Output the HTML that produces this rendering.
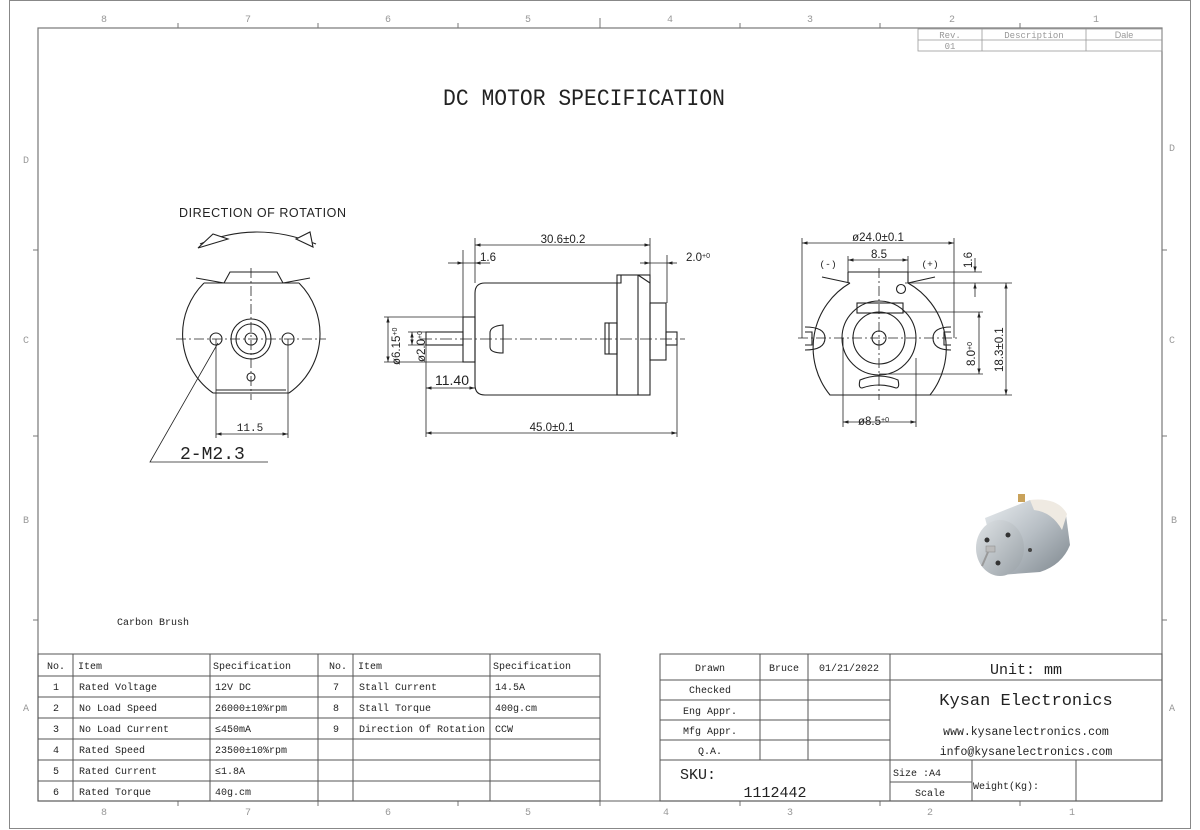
<!DOCTYPE html>
<html><head><meta charset="utf-8"><style>
html,body{margin:0;padding:0;background:#fff}
svg{display:block}
text{font-family:"Liberation Mono","Noto Sans CJK SC",monospace;fill:#222}
.s{font-family:"Liberation Sans",sans-serif}
.g text{fill:#999;font-size:10px}
</style></head><body>
<svg width="1200" height="830" viewBox="0 0 1200 830" xmlns="http://www.w3.org/2000/svg">
<defs>
<marker id="a" viewBox="0 0 10 10" refX="10" refY="5" markerWidth="7" markerHeight="7" orient="auto-start-reverse"><path d="M0,2 L10,5 L0,8 z" fill="#222"/></marker>
<linearGradient id="mg" x1="0" y1="0" x2="1" y2="1"><stop offset="0" stop-color="#e8ecef"/><stop offset=".5" stop-color="#b7bec4"/><stop offset="1" stop-color="#7d868d"/></linearGradient>
<linearGradient id="mf" x1="0" y1="0" x2="1" y2="1"><stop offset="0" stop-color="#dfe3e6"/><stop offset="1" stop-color="#98a0a6"/></linearGradient>
</defs>
<rect x="9.5" y="0.5" width="1181" height="828" fill="none" stroke="#888" stroke-width="1"/>
<rect x="38" y="28" width="1124" height="773" fill="none" stroke="#777" stroke-width="1.2"/>
<g stroke="#777" stroke-width="1">
<line x1="178" y1="23" x2="178" y2="28"/><line x1="318" y1="23" x2="318" y2="28"/><line x1="458" y1="23" x2="458" y2="28"/><line x1="600" y1="18" x2="600" y2="28"/><line x1="740" y1="23" x2="740" y2="28"/><line x1="880" y1="23" x2="880" y2="28"/><line x1="1020" y1="23" x2="1020" y2="28"/>
<line x1="178" y1="801" x2="178" y2="806"/><line x1="318" y1="801" x2="318" y2="806"/><line x1="458" y1="801" x2="458" y2="806"/><line x1="600" y1="801" x2="600" y2="806"/><line x1="740" y1="801" x2="740" y2="806"/><line x1="880" y1="801" x2="880" y2="806"/><line x1="1020" y1="801" x2="1020" y2="806"/>
<line x1="33" y1="250" x2="38" y2="250"/><line x1="33" y1="436" x2="38" y2="436"/><line x1="33" y1="620" x2="38" y2="620"/>
<line x1="1162" y1="250" x2="1167" y2="250"/><line x1="1162" y1="436" x2="1167" y2="436"/><line x1="1162" y1="620" x2="1167" y2="620"/>
</g>
<g class="g" text-anchor="middle">
<text x="104" y="22">8</text><text x="248" y="22">7</text><text x="388" y="22">6</text><text x="528" y="22">5</text><text x="670" y="22">4</text><text x="810" y="22">3</text><text x="952" y="22">2</text><text x="1096" y="22">1</text>
<text x="104" y="815">8</text><text x="248" y="815">7</text><text x="388" y="815">6</text><text x="528" y="815">5</text><text x="666" y="815">4</text><text x="790" y="815">3</text><text x="930" y="815">2</text><text x="1072" y="815">1</text>
<text x="26" y="163">D</text><text x="26" y="343">C</text><text x="26" y="523">B</text><text x="26" y="711">A</text>
<text x="1172" y="151">D</text><text x="1172" y="343">C</text><text x="1174" y="523">B</text><text x="1172" y="711">A</text>
</g>
<g stroke="#999" stroke-width="0.8" fill="none">
<rect x="918" y="29" width="244" height="22"/><line x1="918" y1="40" x2="1162" y2="40"/><line x1="982" y1="29" x2="982" y2="51"/><line x1="1086" y1="29" x2="1086" y2="51"/>
</g>
<g class="g" text-anchor="middle"><text x="950" y="38" style="font-size:9px">Rev.</text><text x="1034" y="38" style="font-size:9px">Description</text><text x="1124" y="38" style="font-size:9px" class="s">Dale</text><text x="950" y="49" style="font-size:9px">01</text></g>
<text x="443" y="105" font-size="23" textLength="282" lengthAdjust="spacingAndGlyphs">DC MOTOR SPECIFICATION</text>
<text x="179" y="217" class="s" font-size="12.5" textLength="167" lengthAdjust="spacing" fill="#333">DIRECTION OF ROTATION</text>

<!-- FRONT VIEW -->
<g stroke="#222" stroke-width="1.1" fill="none">
<path d="M200,244 Q256,220 316,244"/>
<path d="M198,248 L213,234 L228,239 Z" fill="#fff"/>
<path d="M296,239 L310,232 L313,247 Z" fill="#fff"/>
<path d="M204,283 A72,72 0 0 0 213,393 M299,283 A72,72 0 0 1 289,393"/>
<line x1="213" y1="393" x2="289" y2="393"/><line x1="216" y1="390" x2="286" y2="390"/>
<path d="M204,283 L299,283 M224,283 L230,272 L277,272 L283,283 M196,278 L224,283 M310,278 L283,283"/>
<circle cx="216" cy="339" r="6"/><circle cx="288" cy="339" r="6"/>
<circle cx="251" cy="339" r="20"/><circle cx="251" cy="339" r="15"/><circle cx="251" cy="339" r="6"/>
<circle cx="251" cy="377" r="4"/>
</g>
<g stroke="#222" stroke-width="0.8" fill="none">
<line x1="176" y1="339" x2="326" y2="339" stroke-dasharray="10,3,2,3"/>
<line x1="251" y1="268" x2="251" y2="400" stroke-dasharray="10,3,2,3"/>
<line x1="216" y1="339" x2="216" y2="438"/><line x1="288" y1="339" x2="288" y2="438"/>
<line x1="216" y1="434" x2="288" y2="434" marker-start="url(#a)" marker-end="url(#a)"/>
<polyline points="218,343 150,462 268,462"/>
</g>
<text x="250" y="431" font-size="11" text-anchor="middle">11.5</text>
<text x="180" y="459" font-size="18" font-family="Liberation Serif,serif">2-M2.3</text>

<!-- SIDE VIEW -->
<g stroke="#222" stroke-width="1.1" fill="none">
<path d="M485,283 L617,283 L617,395 L485,395 Q475,395 475,385 L475,293 Q475,283 485,283 Z"/>
<rect x="617" y="275" width="33" height="120"/><line x1="638" y1="275" x2="638" y2="395"/>
<path d="M617,283 L621,283 L621,275 M638,275 L650,283"/>
<rect x="650" y="303" width="16" height="57"/>
<rect x="666" y="332" width="11" height="13"/>
<rect x="463" y="317" width="12" height="45"/>
<rect x="426" y="332" width="37" height="13"/>
<path d="M503,325 Q490,326 490,333 L490,347 Q490,353 503,353 Z"/>
<rect x="605" y="323" width="12" height="31"/><line x1="609" y1="323" x2="609" y2="354"/>
</g>
<g stroke="#222" stroke-width="0.8" fill="none">
<line x1="420" y1="339" x2="685" y2="339" stroke-dasharray="12,3,2,3"/>
<line x1="475" y1="238" x2="475" y2="283"/><line x1="650" y1="238" x2="650" y2="275"/>
<line x1="463" y1="250" x2="463" y2="317"/><line x1="667" y1="255" x2="667" y2="303"/>
<line x1="475" y1="245" x2="650" y2="245" marker-start="url(#a)" marker-end="url(#a)"/>
<line x1="448" y1="263" x2="463" y2="263" marker-end="url(#a)"/><line x1="490" y1="263" x2="475" y2="263" marker-end="url(#a)"/><line x1="463" y1="263" x2="475" y2="263"/>
<line x1="640" y1="263" x2="650" y2="263" marker-end="url(#a)"/><line x1="677" y1="263" x2="667" y2="263" marker-end="url(#a)"/><line x1="650" y1="263" x2="667" y2="263"/>
<line x1="384" y1="317" x2="463" y2="317"/><line x1="384" y1="362" x2="463" y2="362"/>
<line x1="388" y1="317" x2="388" y2="362" marker-start="url(#a)" marker-end="url(#a)"/>
<line x1="408" y1="332" x2="426" y2="332"/><line x1="408" y1="345" x2="426" y2="345"/>
<line x1="412" y1="332" x2="412" y2="345" marker-start="url(#a)" marker-end="url(#a)"/>
<line x1="426" y1="345" x2="426" y2="437"/><line x1="677" y1="345" x2="677" y2="437"/>
<line x1="426" y1="388" x2="475" y2="388" marker-start="url(#a)" marker-end="url(#a)"/>
<line x1="426" y1="433" x2="677" y2="433" marker-start="url(#a)" marker-end="url(#a)"/>
</g>
<text x="563" y="243" font-size="11.5" text-anchor="middle" class="s">30.6±0.2</text>
<text x="488" y="261" font-size="11.5" text-anchor="middle" class="s">1.6</text>
<text x="686" y="261" font-size="11.5" class="s">2.0<tspan font-size="7" dy="-3">+0</tspan></text>
<text x="452" y="385" font-size="14" text-anchor="middle" class="s">11.40</text>
<text x="552" y="431" font-size="11.5" text-anchor="middle" class="s">45.0±0.1</text>
<text transform="translate(400,365) rotate(-90)" font-size="11.5" class="s">ø6.15<tspan font-size="7" dy="-3">+0</tspan></text>
<text transform="translate(425,362) rotate(-90)" font-size="11.5" class="s">ø2.0<tspan font-size="7" dy="-3">+0</tspan></text>

<!-- REAR VIEW -->
<g stroke="#222" stroke-width="1.1" fill="none">
<path d="M850,283 A75,75 0 0 0 830,395 L930,395 A75,75 0 0 0 908,283"/>
<path d="M848,272 L908,272 M848,272 L848,283 M908,272 L908,283 M822,277 L850,283 M935,277 L908,283"/>
<circle cx="901" cy="289" r="4.5"/>
<rect x="857" y="303" width="46" height="10"/>
<circle cx="879" cy="338" r="37"/><circle cx="879" cy="338" r="26"/><circle cx="879" cy="338" r="7"/>
<path d="M860,380 Q879,372 898,380 Q900,388 896,388 Q879,382 862,388 Q858,388 860,380 Z"/>
<path d="M805,327 Q825,327 825,338 Q825,350 805,350 M805,332 L812,332 L812,345 L805,345"/>
<path d="M951,327 Q933,327 933,338 Q933,350 951,350 M951,332 L944,332 L944,345 L951,345"/>
</g>
<g stroke="#222" stroke-width="0.8" fill="none">
<line x1="798" y1="338" x2="958" y2="338" stroke-dasharray="10,3,2,3"/>
<line x1="879" y1="268" x2="879" y2="400" stroke-dasharray="10,3,2,3"/>
<line x1="802" y1="238" x2="802" y2="338"/><line x1="954" y1="238" x2="954" y2="338"/>
<line x1="802" y1="243" x2="954" y2="243" marker-start="url(#a)" marker-end="url(#a)"/>
<line x1="848" y1="256" x2="848" y2="272"/><line x1="908" y1="256" x2="908" y2="272"/>
<line x1="848" y1="260" x2="908" y2="260" marker-start="url(#a)" marker-end="url(#a)"/>
<line x1="908" y1="272" x2="982" y2="272"/><line x1="905" y1="283" x2="1012" y2="283"/>
<line x1="975" y1="258" x2="975" y2="272" marker-end="url(#a)"/><line x1="975" y1="297" x2="975" y2="283" marker-end="url(#a)"/>
<line x1="1006" y1="283" x2="1006" y2="395" marker-start="url(#a)" marker-end="url(#a)"/>
<line x1="930" y1="395" x2="1012" y2="395"/>
<line x1="903" y1="312" x2="983" y2="312"/><line x1="879" y1="374" x2="983" y2="374"/>
<line x1="979" y1="312" x2="979" y2="374" marker-start="url(#a)" marker-end="url(#a)"/>
<line x1="843" y1="338" x2="843" y2="427"/><line x1="916" y1="358" x2="916" y2="427"/>
<line x1="843" y1="422" x2="916" y2="422" marker-start="url(#a)" marker-end="url(#a)"/>
</g>
<text x="878" y="241" font-size="11.5" text-anchor="middle" class="s">ø24.0±0.1</text>
<text x="879" y="258" font-size="11.5" text-anchor="middle" class="s">8.5</text>
<text x="828" y="267" font-size="9.5" text-anchor="middle">(-)</text>
<text x="930" y="267" font-size="9.5" text-anchor="middle">(+)</text>
<text transform="translate(972,268) rotate(-90)" font-size="11.5" class="s">1.6</text>
<text transform="translate(1003,372) rotate(-90)" font-size="11.5" class="s">18.3±0.1</text>
<text transform="translate(975,366) rotate(-90)" font-size="11.5" class="s">8.0<tspan font-size="7" dy="-3">+0</tspan></text>
<text x="858" y="425" font-size="11.5" class="s">ø8.5<tspan font-size="7" dy="-3">+0</tspan></text>

<!-- motor photo -->
<g>
<rect x="1018" y="494" width="7" height="8" fill="#c9a25a"/>
<path d="M985,518 L1030,500 Q1055,500 1066,515 L1070,545 Q1062,565 1040,572 L1000,575 Z" fill="url(#mg)"/>
<path d="M1030,500 Q1058,497 1067,514 L1062,530 Q1052,512 1034,510 Z" fill="#efeae2"/>
<ellipse cx="1000" cy="548" rx="24" ry="28" fill="url(#mf)"/>
<circle cx="987" cy="540" r="2.5" fill="#333"/><circle cx="1008" cy="535" r="2.5" fill="#333"/><circle cx="998" cy="563" r="2.5" fill="#333"/><circle cx="1030" cy="550" r="2" fill="#444"/>
<rect x="986" y="546" width="9" height="6" fill="#bbb" stroke="#888" stroke-width=".5"/>
<line x1="988" y1="552" x2="982" y2="566" stroke="#999" stroke-width="2"/>
</g>

<text x="117" y="625" font-size="10">Carbon Brush</text>

<!-- LEFT TABLE -->
<g stroke="#555" stroke-width="1" fill="none">
<rect x="38" y="654" width="562" height="147"/>
<line x1="38" y1="676" x2="600" y2="676"/><line x1="38" y1="697" x2="600" y2="697"/><line x1="38" y1="718" x2="600" y2="718"/><line x1="38" y1="739" x2="600" y2="739"/><line x1="38" y1="760" x2="600" y2="760"/><line x1="38" y1="781" x2="600" y2="781"/>
<line x1="73" y1="654" x2="73" y2="801"/><line x1="210" y1="654" x2="210" y2="801"/><line x1="318" y1="654" x2="318" y2="801"/><line x1="353" y1="654" x2="353" y2="801"/><line x1="490" y1="654" x2="490" y2="801"/>
</g>
<g font-size="10">
<text x="47" y="669">No.</text><text x="78" y="669">Item</text><text x="213" y="669">Specification</text><text x="329" y="669">No.</text><text x="358" y="669">Item</text><text x="493" y="669">Specification</text>
<g text-anchor="middle"><text x="56" y="690">1</text><text x="56" y="711">2</text><text x="56" y="732">3</text><text x="56" y="753">4</text><text x="56" y="774">5</text><text x="56" y="795">6</text>
<text x="336" y="690">7</text><text x="336" y="711">8</text><text x="336" y="732">9</text></g>
<text x="79" y="690">Rated Voltage</text><text x="79" y="711">No Load Speed</text><text x="79" y="732">No Load Current</text><text x="79" y="753">Rated Speed</text><text x="79" y="774">Rated Current</text><text x="79" y="795">Rated Torque</text>
<text x="215" y="690">12V DC</text><text x="215" y="711">26000±10%rpm</text><text x="215" y="732">≤450mA</text><text x="215" y="753">23500±10%rpm</text><text x="215" y="774">≤1.8A</text><text x="215" y="795">40g.cm</text>
<text x="359" y="690">Stall Current</text><text x="359" y="711">Stall Torque</text><text x="359" y="732">Direction Of Rotation</text>
<text x="495" y="690">14.5A</text><text x="495" y="711">400g.cm</text><text x="495" y="732">CCW</text>
</g>

<!-- RIGHT TABLE -->
<g stroke="#555" stroke-width="1" fill="none">
<rect x="660" y="654" width="502" height="147"/>
<line x1="660" y1="680" x2="1162" y2="680"/>
<line x1="660" y1="700" x2="890" y2="700"/><line x1="660" y1="720" x2="890" y2="720"/><line x1="660" y1="740" x2="890" y2="740"/>
<line x1="660" y1="760" x2="1162" y2="760"/>
<line x1="890" y1="782" x2="972" y2="782"/>
<line x1="760" y1="654" x2="760" y2="760"/><line x1="808" y1="654" x2="808" y2="760"/><line x1="890" y1="654" x2="890" y2="801"/>
<line x1="972" y1="760" x2="972" y2="801"/><line x1="1076" y1="760" x2="1076" y2="801"/>
</g>
<g font-size="10" text-anchor="middle">
<text x="710" y="671">Drawn</text><text x="784" y="671">Bruce</text><text x="849" y="671">01/21/2022</text>
<text x="710" y="693">Checked</text><text x="710" y="714">Eng Appr.</text><text x="710" y="734">Mfg Appr.</text><text x="710" y="754">Q.A.</text>
<text x="1026" y="674" font-size="15">Unit: mm</text>
<text x="1026" y="705" font-size="17">Kysan Electronics</text>
<text x="1026" y="735" font-size="11.5">www.kysanelectronics.com</text>
<text x="1026" y="755" font-size="11.5">info@kysanelectronics.com</text>
<text x="917" y="776">Size :A4</text><text x="930" y="796">Scale</text>
<text x="1006" y="789">Weight(Kg):</text>
<text x="775" y="797" font-size="15">1112442</text>
</g>
<text x="680" y="779" font-size="15">SKU:</text>
</svg>
</body></html>
